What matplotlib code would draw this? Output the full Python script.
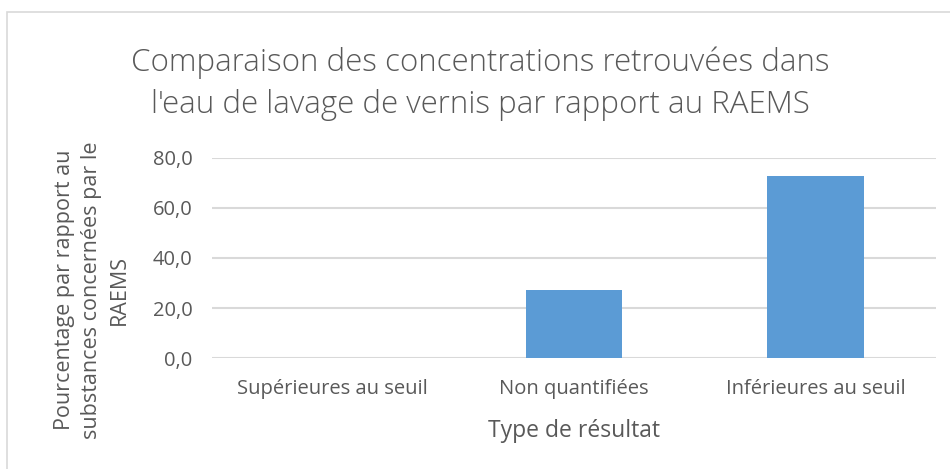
import matplotlib.pyplot as plt
from matplotlib.patches import Rectangle

plt.rcParams["font.family"] = ["Open Sans", "DejaVu Sans"]

# Data
categories = ["Supérieures au seuil", "Non quantifiées", "Inférieures au seuil"]
values = [0.0, 27.3, 72.7]
yticks = [0, 20, 40, 60, 80]

text_color = "#595959"
bar_color = "#5b9bd5"
grid_color = "#d9d9d9"

fig = plt.figure(figsize=(9.5, 4.69), dpi=100)
ax = fig.add_axes([212 / 950, 1 - 358.3 / 469, (936 - 212) / 950, (358.3 - 157.7) / 469])

x = range(len(categories))
ax.bar(x, values, width=0.4, color=bar_color, zorder=3)

ax.set_xlim(-0.5, len(categories) - 0.5)
ax.set_ylim(0, 80)
ax.set_yticks(yticks)
ax.set_yticklabels([f"{v:.1f}".replace(".", ",") for v in yticks])
ax.set_xticks(list(x))
ax.set_xticklabels(categories)
ax.tick_params(axis="both", length=0, colors=text_color, labelsize=14.5)
ax.tick_params(axis="x", pad=15)
ax.tick_params(axis="y", pad=14)
ax.grid(axis="y", color=grid_color, linewidth=1.5, zorder=0)
for s in ax.spines.values():
    s.set_visible(False)

ax.set_xlabel("Type de résultat", color=text_color, fontsize=16.5, labelpad=14)

fig.text(480 / 950, 1 - 84 / 469,
         "Comparaison des concentrations retrouvées dans\nl'eau de lavage de vernis par rapport au RAEMS",
         ha="center", va="center", fontsize=22.5, color=text_color, linespacing=1.4,
         fontweight="light")

fig.text(92 / 950, 1 - 290 / 469,
         "Pourcentage par rapport au\nsubstances concernées par le\nRAEMS",
         rotation=90, ha="center", va="center", multialignment="center",
         fontsize=15.5, color=text_color, linespacing=1.4)

# chart area border
fig.patches.append(Rectangle((7 / 950, -0.01), 1.0, (469 - 12) / 469 + 0.01,
                             transform=fig.transFigure, fill=False,
                             edgecolor=grid_color, linewidth=1.2))

fig.savefig("out.png", dpi=100)
